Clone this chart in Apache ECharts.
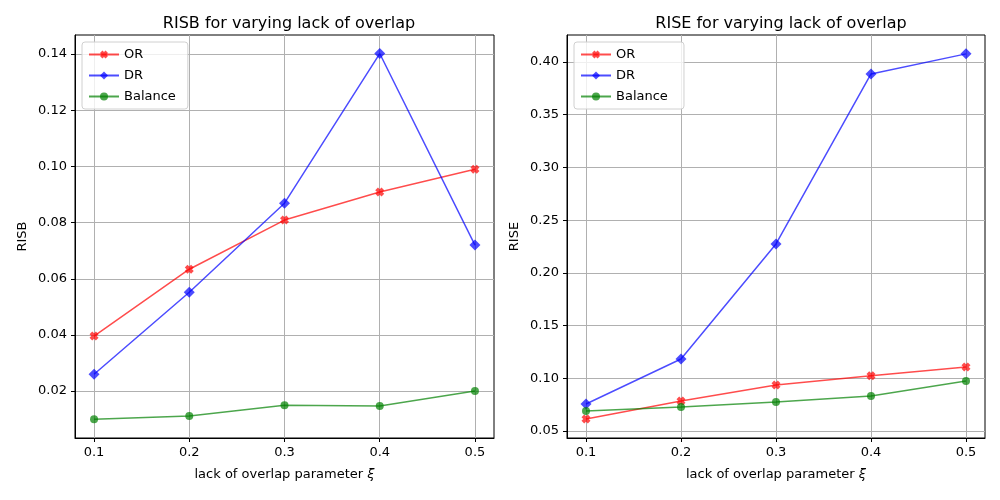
<!DOCTYPE html>
<html>
<head>
<meta charset="utf-8">
<script src="https://cdn.jsdelivr.net/npm/echarts@6/dist/echarts.min.js"></script>
<style>
  html, body { margin: 0; padding: 0; background: #fff; }
  #chart { width: 1000px; height: 500px; }
</style>
</head>
<body>
<div id="chart"></div>
<script>
// lack of overlap parameter
const xi = [0.1, 0.2, 0.3, 0.4, 0.5]

// RISB (left panel)
const risbOR = [0.0396, 0.0634, 0.0809, 0.0909, 0.0990]
const risbDR = [0.0260, 0.0552, 0.0869, 0.1402, 0.0720]
const risbBal = [0.0100, 0.0111, 0.0150, 0.0147, 0.0200]

// RISE (right panel)
const riseOR = [0.0614, 0.0785, 0.0936, 0.1024, 0.1107]
const riseDR = [0.0756, 0.1183, 0.2274, 0.3887, 0.4077]
const riseBal = [0.0690, 0.0728, 0.0775, 0.0832, 0.0974]

// tick labels
const xTicks = [0.1, 0.2, 0.3, 0.4, 0.5]
const risbTicks = [0.02, 0.04, 0.06, 0.08, 0.10, 0.12, 0.14]
const riseTicks = [0.05, 0.10, 0.15, 0.20, 0.25, 0.30, 0.35, 0.40]

const FONT = 'DejaVu Sans'
const red = 'rgba(255,0,0,0.7)'
const blue = 'rgba(0,0,255,0.7)'
const green = 'rgba(0,128,0,0.7)'
// filled "X" marker like matplotlib's 'X'
const xMark = 'path://M0,3 L3,0 L5,2 L7,0 L10,3 L8,5 L10,7 L7,10 L5,8 L3,10 L0,7 L2,5 Z'

const pair = (xs, ys) => xs.map((x, i) => [x, ys[i]])

const makeX = idx => ({
  type: 'value', gridIndex: idx, min: 0.08, max: 0.52,
  name: '{n|lack of overlap parameter }{g|ξ}', nameLocation: 'middle', nameGap: 30,
  nameTextStyle: {
    rich: {
      n: { fontFamily: FONT, fontSize: 13, color: '#000' },
      g: { fontFamily: FONT, fontSize: 13, color: '#000', fontStyle: 'italic' }
    }
  },
  axisLine: { lineStyle: { color: '#000' } },
  axisTick: { customValues: xTicks, length: 4, lineStyle: { color: '#000' } },
  axisLabel: { customValues: xTicks, fontFamily: FONT, fontSize: 13, color: '#000', formatter: v => v.toFixed(1) },
  splitLine: { show: true, lineStyle: { color: '#b0b0b0' } }
})

const makeY = (idx, name, min, max, ticks, digits) => ({
  type: 'value', gridIndex: idx, min: min, max: max,
  name: name, nameLocation: 'middle', nameGap: 46,
  nameTextStyle: { fontFamily: FONT, fontSize: 13, color: '#000' },
  axisLine: { show: true, lineStyle: { color: '#000' } },
  axisTick: { show: true, customValues: ticks, length: 4, lineStyle: { color: '#000' } },
  axisLabel: { customValues: ticks, fontFamily: FONT, fontSize: 13, color: '#000', formatter: v => v.toFixed(digits) },
  splitLine: { show: true, lineStyle: { color: '#b0b0b0' } }
})

const makeSeries = (name, data, color, symbol, size, idx) => ({
  name: name, type: 'line', xAxisIndex: idx, yAxisIndex: idx,
  data: data, symbol: symbol, symbolSize: size, showAllSymbol: true,
  lineStyle: { color: color, width: 1.5 },
  itemStyle: { color: color },
  emphasis: { disabled: true },
  animation: false
})

const makeLegend = (left, names) => ({
  orient: 'vertical', left: left, top: 42,
  data: names,
  itemWidth: 30, itemHeight: 10, itemGap: 8,
  padding: [6, 12, 6, 6],
  borderColor: '#d0d0d0', borderWidth: 1, borderRadius: 3,
  backgroundColor: 'rgba(255,255,255,0.8)',
  textStyle: { fontFamily: FONT, fontSize: 13, color: '#000' }
})

const chart = echarts.init(document.getElementById('chart'))
chart.setOption({
  animation: false,
  title: [
    { text: 'RISB for varying lack of overlap', left: 284, top: 11, textAlign: 'center',
      textStyle: { fontFamily: FONT, fontSize: 16, fontWeight: 'normal', color: '#000' } },
    { text: 'RISE for varying lack of overlap', left: 776, top: 11, textAlign: 'center',
      textStyle: { fontFamily: FONT, fontSize: 16, fontWeight: 'normal', color: '#000' } }
  ],
  legend: [
    makeLegend(82, ['OR', 'DR', 'Balance']),
    makeLegend(574, ['OR ', 'DR ', 'Balance '])
  ],
  grid: [
    { left: 75, right: 506, top: 35, bottom: 62, show: true, borderColor: '#000', borderWidth: 1 },
    { left: 567, right: 15, top: 35, bottom: 62, show: true, borderColor: '#000', borderWidth: 1 }
  ],
  xAxis: [makeX(0), makeX(1)],
  yAxis: [
    makeY(0, 'RISB', 0.0033, 0.1468, risbTicks, 2),
    makeY(1, 'RISE', 0.0434, 0.4256, riseTicks, 2)
  ],
  series: [
    makeSeries('OR', pair(xi, risbOR), red, xMark, 9, 0),
    makeSeries('DR', pair(xi, risbDR), blue, 'diamond', 11, 0),
    makeSeries('Balance', pair(xi, risbBal), green, 'circle', 8, 0),
    makeSeries('OR ', pair(xi, riseOR), red, xMark, 9, 1),
    makeSeries('DR ', pair(xi, riseDR), blue, 'diamond', 11, 1),
    makeSeries('Balance ', pair(xi, riseBal), green, 'circle', 8, 1)
  ]
})
</script>
</body>
</html>
